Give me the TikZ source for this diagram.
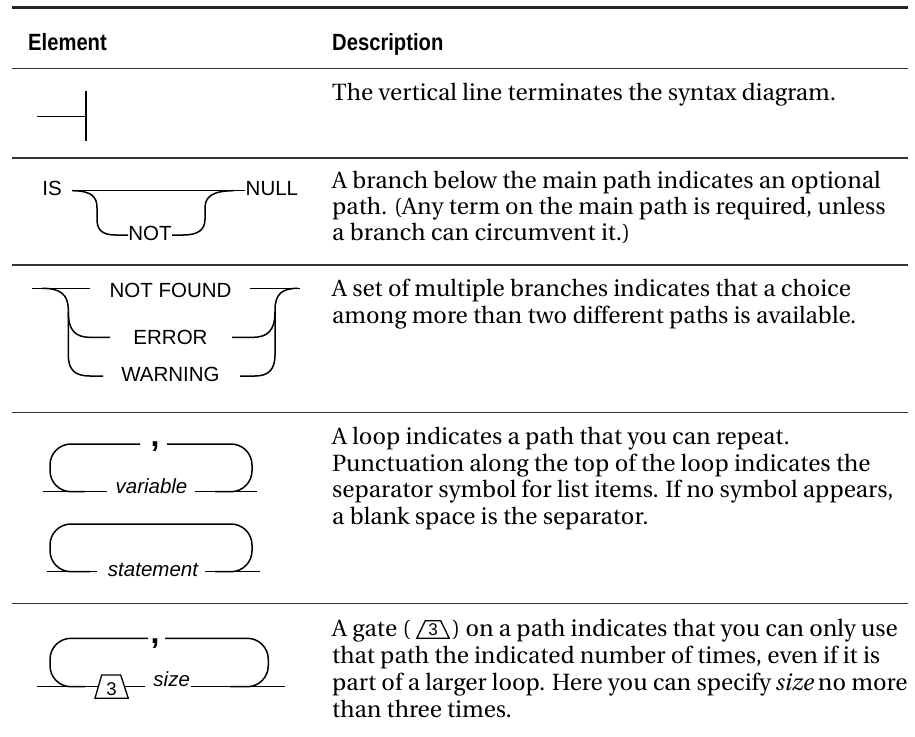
\documentclass[tikz,border=0pt]{standalone}
\usepackage[T1]{fontenc}
\usepackage{fontspec}
\setsansfont{Liberation Sans}
\usetikzlibrary{calc}
\newcommand\bodyserif{\fontencoding{T1}\fontfamily{put}\selectfont}
\tikzset{
  tablerule/.style={line width=1.3pt, draw=black!80},
  toprule/.style={line width=3.2pt, draw=black!85},
  syn/.style={line width=1.5pt},
  lbl/.style={font=\sffamily\fontsize{20.5}{24}\selectfont, inner sep=0pt, anchor=base},
  ilbl/.style={font=\sffamily\itshape\fontsize{20.5}{24}\selectfont, inner sep=0pt, anchor=base},
  sepmark/.style={font=\sffamily\bfseries\fontsize{32}{34}\selectfont, inner sep=0pt, anchor=base},
  gatenum/.style={font=\sffamily\fontsize{18.5}{20}\selectfont, inner sep=0pt, anchor=base},
  gateshape/.style={line width=1.3pt, fill=white, line join=miter},
  desc/.style={font=\bodyserif\fontsize{23.5}{27}\selectfont, inner sep=0pt, anchor=base west},
  headtxt/.style={font=\sffamily\bfseries\fontsize{23.5}{26}\selectfont, inner sep=0pt, anchor=base west},
}
\begin{document}
\begin{tikzpicture}[x=1pt,y=-1pt]
\useasboundingbox (0,0) rectangle (915,736);
\fill[white] (0,0) rectangle (915,736);

% table rules
\draw[toprule] (12,7.3) -- (908,7.3);
\draw[tablerule] (12,68.3) -- (908,68.3);
\draw[tablerule] (12,158) -- (908,158);
\draw[tablerule] (12,265) -- (908,265);
\draw[tablerule] (12,412.7) -- (908,412.7);
\draw[tablerule] (12,603.3) -- (908,603.3);

% header
\node[headtxt] (hElem) at (28,50) {\scalebox{0.86}[1]{Element}};
\node[headtxt] (hDesc) at (332,50) {\scalebox{0.86}[1]{Description}};

% row 1: terminator
\draw[syn] (37,116.3) -- (86,116.3);
\draw[syn] (86,90.7) -- (86,140.7);
\node[desc] (d1a) at (332,100) {The vertical line terminates the syntax diagram.};

% row 2: optional branch
\node[lbl] (is) at (52,195) {IS};
\node[lbl, anchor=base west] (null) at (245.5,195) {NULL};
\node[lbl] (not) at (150,240.5) {NOT};
\draw[syn] (72,190.7) -- (245,190.7);
\draw[syn] (72,190.7) .. controls (92,190.7) and (97,197) .. (97,208) -- (97,219)
  .. controls (97,230) and (102,235) .. (116,235) -- (128,235);
\draw[syn] (172,235) -- (183,235) .. controls (198,235) and (205,230) .. (205,219)
  -- (205,208) .. controls (205,197) and (212,190.7) .. (234,190.7);
\node[desc] (d2a) at (332,188.3) {A branch below the main path indicates an optional};
\node[desc] (d2b) at (332,214.5) {path. (Any term on the main path is required, unless};
\node[desc] (d2c) at (332,240.5) {a branch can circumvent it.)};

% row 3: choice of several branches
\node[lbl] (nf) at (170.5,297.5) {NOT FOUND};
\node[lbl] (err) at (170.5,344) {ERROR};
\node[lbl] (warn) at (170.5,381) {WARNING};
\draw[syn] (32,288.3) -- (90,288.3);
\draw[syn] (250,288.3) -- (300,288.3);
\draw[syn] (42,288.3) .. controls (60,288.3) and (68.3,294) .. (68.3,310) -- (68.3,355)
  .. controls (68.3,370) and (75,376) .. (90,376) -- (103,376);
\draw[syn] (68.3,312) .. controls (68.3,330) and (75,337.3) .. (90,337.3) -- (110,337.3);
\draw[syn] (298,288.3) .. controls (282,288.3) and (275,294) .. (275,310) -- (275,355)
  .. controls (275,370) and (268,376) .. (255,376) -- (240,376);
\draw[syn] (275,312) .. controls (275,330) and (268,337.3) .. (253,337.3) -- (232,337.3);
\node[desc] (d3a) at (332,296.7) {A set of multiple branches indicates that a choice};
\node[desc] (d3b) at (332,323.3) {among more than two different paths is available.};

% row 4: loops
\draw[syn, rounded corners=21] (140,444) -- (50,444) -- (50,491.7) -- (85,491.7);
\draw[syn, rounded corners=21] (167,444) -- (252,444) -- (252,491.7) -- (215,491.7);
\draw[syn] (43,491.7) -- (107,491.7);
\draw[syn] (195,491.7) -- (257,491.7);
\node[sepmark] (c1) at (155,446) {,};
\node[ilbl] (var) at (151.5,493.3) {variable};

\draw[syn, rounded corners=21] (90,571.7) -- (50,571.7) -- (50,524) -- (252,524)
  -- (252,571.7) -- (215,571.7);
\draw[syn] (46.7,571.7) -- (96.7,571.7);
\draw[syn] (205,571.7) -- (260,571.7);
\node[ilbl] (stmt) at (153,576.5) {statement};

\node[desc] (d4a) at (332,444.3) {A loop indicates a path that you can repeat.};
\node[desc] (d4b) at (332,471) {Punctuation along the top of the loop indicates the};
\node[desc] (d4c) at (332,497.7) {separator symbol for list items. If no symbol appears,};
\node[desc] (d4d) at (332,524.3) {a blank space is the separator.};

% row 5: gated loop
\draw[syn, rounded corners=21] (148,638.3) -- (50,638.3) -- (50,686.7) -- (85,686.7);
\draw[syn, rounded corners=21] (165,638.3) -- (268.3,638.3) -- (268.3,686.7) -- (230,686.7);
\draw[syn] (36.7,686.7) -- (145,686.7);
\draw[syn] (191,686.7) -- (285,686.7);
\draw[gateshape] (95,698.3) -- (128.3,698.3) -- (120.7,675) -- (101.7,675) -- cycle;
\node[gatenum] (g3) at (111.5,695.5) {3};
\node[sepmark] (c2) at (155,643.5) {,};
\node[ilbl] (size) at (171.7,686.7) {size};

\node[desc] (d5a) at (332,636) {A gate (};
\coordinate (ig) at ($(d5a.base east)+(6,0)$);
\draw[gateshape] ($(ig)+(0,2.3)$) -- ($(ig)+(32.4,2.3)$) -- ($(ig)+(23.9,-15.3)$)
  -- ($(ig)+(8.5,-15.3)$) -- cycle;
\node[gatenum, font=\sffamily\fontsize{17}{20}\selectfont] (ig3) at ($(ig)+(16.2,-0.5)$) {3};
\node[desc] (d5b) at ($(ig)+(35,0)$) {) on a path indicates that you can only use};
\node[desc] (d5c) at (332,663) {that path the indicated number of times, even if it is};
\node[desc] (d5d) at (332,690) {part of a larger loop. Here you can specify\kern-1.5pt{} \textit{size}\kern-1.5pt{} no more};
\node[desc] (d5e) at (332,717) {than three times.};
\end{tikzpicture}
\end{document}
